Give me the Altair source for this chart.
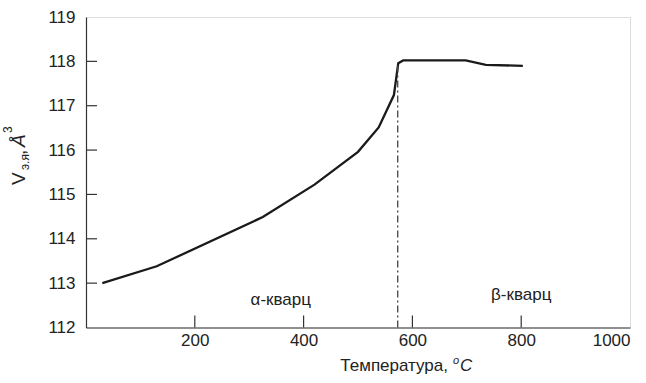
import altair as alt
import pandas as pd

# data
temps = [30, 130, 325, 420, 500, 538, 566, 574, 583, 698, 735, 803]
volumes = [113.0, 113.38, 114.49, 115.22, 115.96, 116.51, 117.24, 117.96, 118.02, 118.02, 117.92, 117.90]
transition_t = [573]
transition_v0 = [112.0]
transition_v1 = [117.95]
y_tick_vals = [113, 114, 115, 116, 117, 118]
x_tick_vals = [200, 400, 600, 800]
x_label_vals = [200, 400, 600, 800, 1000]
y_label_vals = [112, 113, 114, 115, 116, 117, 118, 119]
phase_names = ["α-кварц", "β-кварц"]
phase_t = [358, 800]
phase_v = [112.51, 112.63]

FONT = "Liberation Sans"
W, H = 544, 310.5
FS = 17

df = pd.DataFrame({"T": temps, "V": volumes})
xs = alt.Scale(domain=[0, 1000], nice=False, zero=False)
ys = alt.Scale(domain=[112, 119], nice=False, zero=False)

line = alt.Chart(df).mark_line(color="#1a1a1a", strokeWidth=2.3).encode(
    x=alt.X("T:Q", scale=xs, axis=alt.Axis(values=x_label_vals, ticks=False, grid=False, format="d",
                                            title=None, labelFont=FONT, labelFontSize=FS,
                                            labelColor="#222", labelPadding=5, labelFlush=True,
                                            domainColor="#333", domainWidth=1.2)),
    y=alt.Y("V:Q", scale=ys, axis=alt.Axis(values=y_label_vals, ticks=False, grid=False, format="d",
                                            title=None, labelFont=FONT, labelFontSize=FS,
                                            labelColor="#222", labelPadding=11,
                                            domainColor="#333", domainWidth=1.2)),
)

rule = alt.Chart(pd.DataFrame({"T": transition_t, "V0": transition_v0, "V1": transition_v1})).mark_rule(
    color="#444", strokeWidth=1.3, strokeDash=[7, 3, 2, 3]
).encode(x=alt.X("T:Q", scale=xs), y=alt.Y("V0:Q", scale=ys), y2="V1:Q")

yt = alt.Chart(pd.DataFrame({"V": y_tick_vals})).mark_rule(color="#333", strokeWidth=1.2).encode(
    y=alt.Y("V:Q", scale=ys), x=alt.value(0), x2=alt.value(11))
xt = alt.Chart(pd.DataFrame({"T": x_tick_vals})).mark_rule(color="#333", strokeWidth=1.2).encode(
    x=alt.X("T:Q", scale=xs), y=alt.value(H), y2=alt.value(H - 12))

phases = alt.Chart(pd.DataFrame({"name": phase_names, "T": phase_t, "V": phase_v})).mark_text(
    font=FONT, fontSize=FS, color="#222", baseline="alphabetic", align="center"
).encode(x=alt.X("T:Q", scale=xs), y=alt.Y("V:Q", scale=ys), text="name:N")

def txt(s, x, y, size=FS, align="left", angle=0, italic=False):
    return alt.Chart(pd.DataFrame({"s": [s]})).mark_text(
        font=FONT, fontSize=size, color="#222", align=align, baseline="alphabetic",
        angle=angle, fontStyle="italic" if italic else "normal"
    ).encode(text="s:N", x=alt.value(x), y=alt.value(y))

# x title: "Температура, °C"
xb = 354
xtitle = [
    txt("Температура,", 362, xb, align="right"),
    txt("o", 367, xb - 7, size=11, italic=True),
    txt("C", 374, xb, italic=True),
]
# y title: V_{э.я}, Å^3 (rotated)
yb = -61
ytitle = [
    txt("V", yb, 168, size=19, angle=270),
    txt("э.я", yb + 4, 153, size=12, angle=270),
    txt(",", yb, 138, size=19, angle=270),
    txt("Å", yb, 130, size=19, angle=270, italic=True),
    txt("3", yb - 13, 116, size=12, angle=270),
]

chart = alt.layer(line, rule, yt, xt, phases, *xtitle, *ytitle).properties(
    width=W, height=H,
    autosize=alt.AutoSizeParams(type="none"),
    padding={"left": 86, "top": 17, "right": 16, "bottom": 55.5},
).configure_view(stroke="#333", strokeWidth=1.2).configure(background="white")

chart.save("out.html", embed_options={"renderer": "svg", "actions": False})
